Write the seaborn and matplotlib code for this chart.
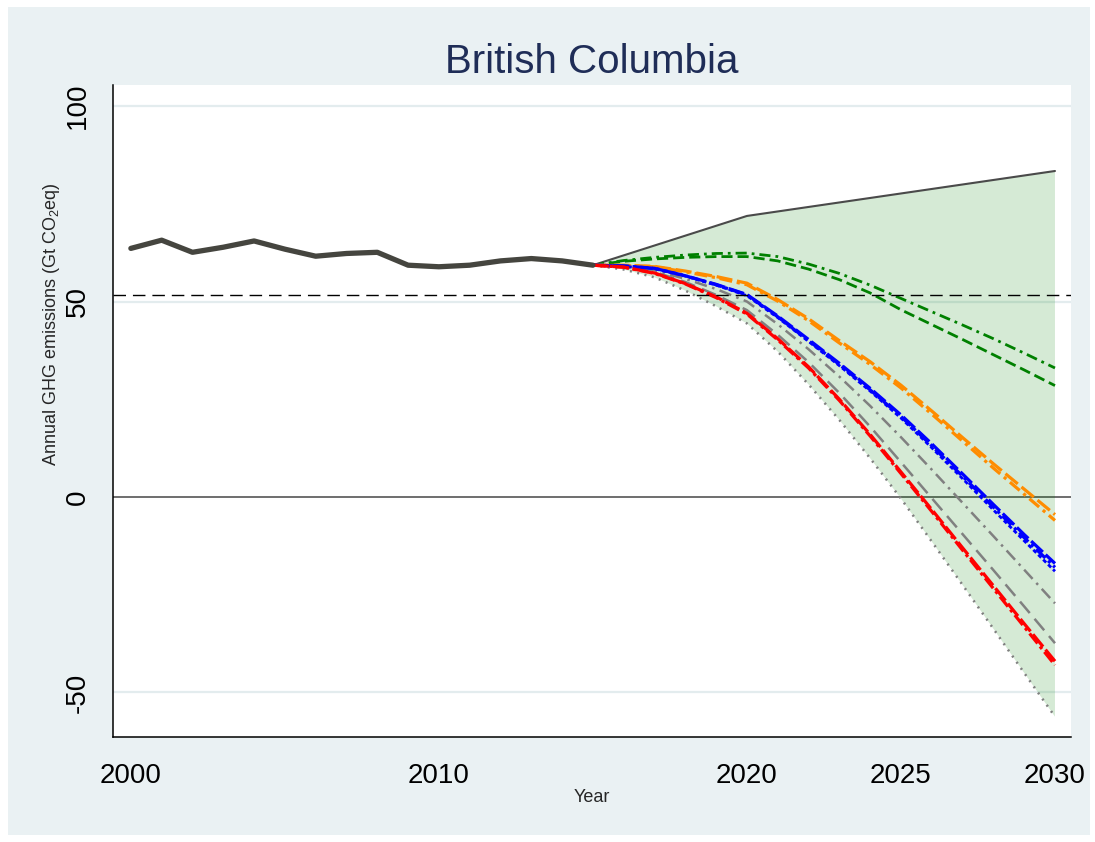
import numpy as np
import pandas as pd
import matplotlib
matplotlib.use('Agg')
import matplotlib.pyplot as plt
from matplotlib.patches import Rectangle
import seaborn as sns

# Historical emissions (thick line)
hist_years = list(range(2000, 2016))
hist_ghg = [63.6, 65.7, 62.6, 63.9, 65.5, 63.4, 61.6, 62.3,
            62.6, 59.3, 58.9, 59.3, 60.4, 61.0, 60.4, 59.3]

# Projection pathways, 2015-2030
proj_years = list(range(2015, 2031))
green_dashdot = [59.3, 60.5, 61.3, 61.9, 62.3, 62.4, 61.5, 59.6,
                 57.2, 54.2, 50.8, 47.4, 44.0, 40.5, 36.8, 33.0]
green_dashed = [59.3, 60.3, 60.9, 61.3, 61.5, 61.5, 60.4, 58.3,
                55.6, 52.2, 47.9, 44.1, 40.3, 36.4, 32.5, 28.5]
orange_a = [59.3, 59.3, 59.0, 57.8, 56.4, 54.7, 50.5, 45.6,
            40.0, 34.6, 28.6, 22.0, 15.2, 8.5, 2.0, -4.5]
orange_b = [59.3, 59.2, 58.9, 57.6, 56.1, 54.3, 50.1, 45.1,
            39.4, 33.9, 27.9, 21.2, 14.3, 7.4, 0.7, -6.0]
blue_a = [59.3, 59.1, 58.5, 56.6, 54.4, 51.8, 46.3, 40.3,
          34.2, 27.8, 21.0, 13.6, 5.9, -1.9, -9.6, -17.0]
blue_b = [59.3, 59.1, 58.5, 56.6, 54.3, 51.7, 46.1, 40.0,
          33.9, 27.4, 20.6, 13.1, 5.3, -2.6, -10.4, -18.0]
blue_c = [59.3, 59.0, 58.4, 56.5, 54.2, 51.5, 45.9, 39.8,
          33.6, 27.1, 20.2, 12.6, 4.7, -3.3, -11.2, -19.0]
gray_dashdot = [59.3, 59.0, 58.0, 55.8, 53.2, 50.0, 44.2, 37.8,
                30.8, 23.3, 15.3, 7.0, -1.5, -10.0, -18.6, -27.2]
gray_dashed = [59.3, 58.9, 57.6, 55.0, 51.7, 47.8, 41.5, 34.5,
               26.6, 18.0, 8.9, -0.3, -9.5, -18.7, -28.0, -37.4]
red_a = [59.3, 58.8, 57.3, 54.6, 51.2, 47.0, 40.5, 33.3,
         25.0, 16.0, 6.4, -3.2, -13.0, -22.7, -32.4, -42.0]
red_b = [59.3, 58.8, 57.2, 54.5, 51.0, 46.8, 40.2, 33.0,
         24.7, 15.6, 6.0, -3.7, -13.6, -23.4, -33.2, -43.0]
lower_bound = [59.3, 58.2, 56.2, 52.8, 48.8, 44.4, 37.2, 28.8,
               19.7, 9.9, -0.4, -11.4, -22.5, -33.7, -45.0, -56.2]

# Upper envelope
bound_years = [2015, 2020, 2030]
upper_bound = [59.3, 71.9, 83.4]

target_level = 51.7

x_ticks = [2000, 2010, 2020, 2025, 2030]
y_ticks = [-50, 0, 50, 100]

sns.set_style('white')
plt.rcParams['font.family'] = ['Liberation Sans', 'DejaVu Sans']
plt.rcParams['mathtext.fontset'] = 'custom'
plt.rcParams['mathtext.rm'] = 'Liberation Sans'
plt.rcParams['mathtext.default'] = 'regular'

W, H = 1095, 842
fig = plt.figure(figsize=(W / 100, H / 100), dpi=100, facecolor='white')
fig.patches.append(Rectangle((8 / W, 7 / H), (1090 - 8) / W, (835 - 7) / H,
                             transform=fig.transFigure, facecolor='#eaf1f3',
                             edgecolor='none', zorder=-10))
ax = fig.add_axes([113 / W, (H - 737) / H, (1071 - 113) / W, (737 - 85) / H])
ax.set_facecolor('white')

# grid and reference lines
for yv in [-50, 50, 100]:
    ax.axhline(yv, color='#e3ecee', lw=1.6, zorder=0)
ax.axhline(0, color='#6e6e6e', lw=1.4, zorder=0.5)

# shaded range between upper and lower pathway
poly_x = np.concatenate([bound_years, proj_years[::-1]])
poly_y = np.concatenate([upper_bound, lower_bound[::-1]])
ax.fill(poly_x, poly_y, color='#008000', alpha=0.165, lw=0, zorder=1)

sns.lineplot(x=bound_years, y=upper_bound, ax=ax, color='#4a4a4a', lw=1.5, zorder=3)

# (values, colour, dash pattern, linewidth)
series = [
    (lower_bound, '#7f7f7f', (0.8, 2.2), 1.8),
    (green_dashdot, '#008000', (4, 1.8, 1, 1.8), 2.0),
    (green_dashed, '#008000', (4, 1.8), 2.0),
    (gray_dashdot, '#808080', (5, 2.2, 1, 2.2), 1.8),
    (gray_dashed, '#808080', (6, 3), 1.8),
    (orange_a, '#ff8c00', (5, 1.5), 2.3),
    (orange_b, '#ff8c00', (4, 1.5, 1, 1.5), 2.3),
    (blue_a, '#0000ff', (5, 1.2), 2.3),
    (blue_b, '#0000ff', (4, 1.2, 1, 1.2), 2.3),
    (blue_c, '#0000ff', (1.5, 1.0), 2.0),
    (red_a, '#ff0000', (5, 1.2), 2.3),
    (red_b, '#ff0000', (4, 1.2, 1, 1.2), 2.3),
]
for vals, col, dash, lw in series:
    sns.lineplot(x=proj_years, y=vals, ax=ax, color=col, lw=lw,
                 linestyle=(0, dash), zorder=4)

ax.axhline(target_level, color='black', lw=1.0, linestyle=(0, (9, 5)), zorder=5)

sns.lineplot(x=hist_years, y=hist_ghg, ax=ax, color='#45453f', lw=3.8,
             solid_joinstyle='round', solid_capstyle='round', zorder=6)

ax.set_xlim(1999.42, 2030.52)
ax.set_ylim(-61.4, 105.4)
ax.set_xticks(x_ticks)
ax.set_xticklabels([str(t) for t in x_ticks])
ax.set_yticks(y_ticks)
ax.set_yticklabels([str(t) for t in y_ticks], rotation=90, va='center')
ax.tick_params(axis='both', length=7, width=1, color='black', labelsize=20,
               labelcolor='black')
ax.tick_params(axis='x', pad=12)
ax.tick_params(axis='y', pad=9)

for side in ['top', 'right']:
    ax.spines[side].set_visible(False)
for side in ['left', 'bottom']:
    ax.spines[side].set_color('black')
    ax.spines[side].set_linewidth(1.1)

ax.set_xlabel('Year', fontsize=13)
ax.xaxis.set_label_coords(0.5, -0.08)
ax.set_ylabel(r'Annual GHG emissions (Gt CO$_2$eq)', fontsize=13)
ax.yaxis.label.set_va('center')
ax.yaxis.set_label_coords(-0.064, 0.633)

fig.text(592 / W, 1 - 73 / H, 'British Columbia', ha='center', va='baseline',
         fontsize=29, color='#1f2d57')

fig.savefig('out.png', dpi=100, facecolor=fig.get_facecolor())
